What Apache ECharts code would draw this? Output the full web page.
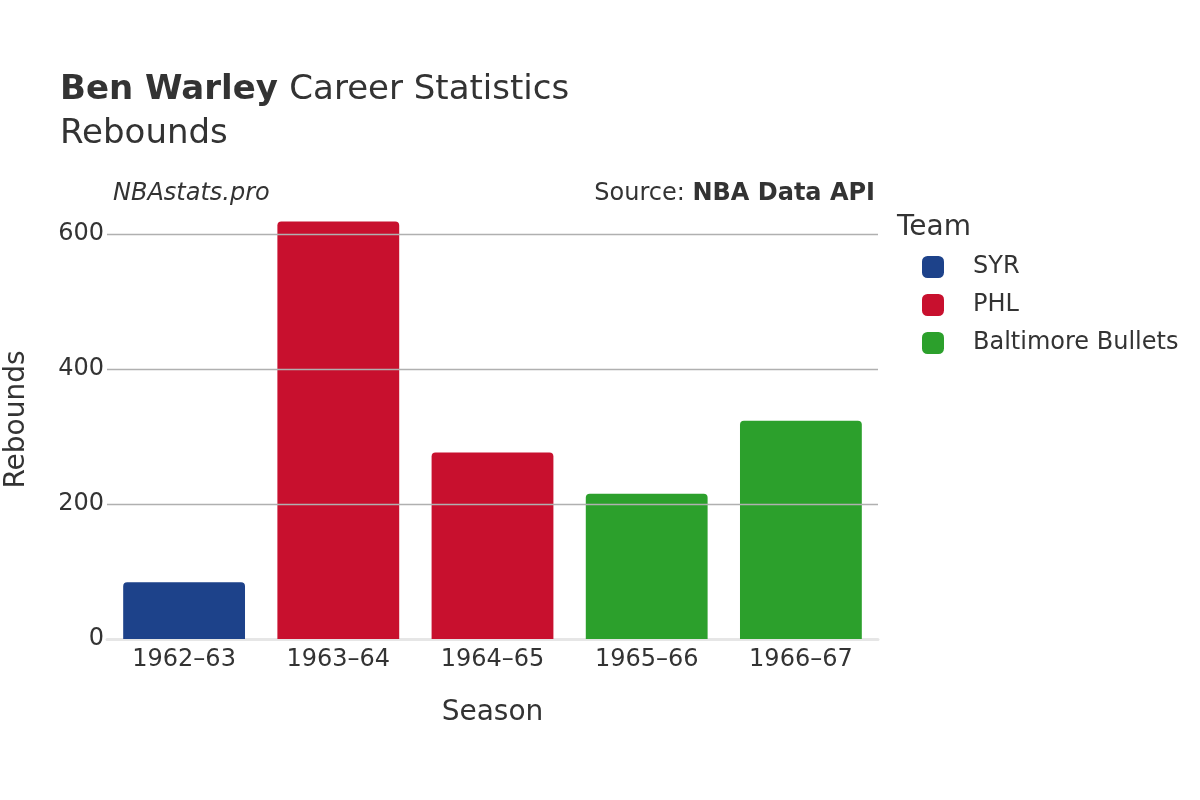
<!DOCTYPE html>
<html lang="en">
<head>
    <meta charset="UTF-8">
    <title>Ben Warley Rebounds</title>
    <script src="https://cdn.jsdelivr.net/npm/echarts@6/dist/echarts.min.js"></script>
    <style>
        html, body { margin: 0; padding: 0; background: #fff; }
        #main { width: 1200px; height: 800px; }
    </style>
</head>
<body>
<div id="main"></div>
<script type="text/javascript">
    // data
    var seasons = ['1962\u201363', '1963\u201364', '1964\u201365', '1965\u201366', '1966\u201367'];
    var teams = ['SYR', 'PHL', 'Baltimore Bullets'];
    var syrVals = [84, null, null, null, null];
    var phlVals = [null, 618, 276, null, null];
    var balVals = [null, null, null, 215, 323];
    var yTicks = [200, 400, 600];
    var teamColors = ['#1d428a', '#c8102e', '#2ca02c'];

    var font = 'DejaVu Sans';
    var myChart = echarts.init(document.getElementById('main'));

    function barSeries(name, vals, color) {
        return {
            name: name,
            type: 'bar',
            stack: 'total',
            barCategoryGap: '21%',
            z: 3,
            itemStyle: {color: color, borderRadius: [4, 4, 0, 0]},
            data: vals
        };
    }

    var option = {
        backgroundColor: '#fff',
        textStyle: {fontFamily: font},
        title: [
            {
                text: '{b|Ben Warley}  {n|Career Statistics}\n{n|Rebounds}',
                left: 55, top: 63,
                textStyle: {
                    fontWeight: 'normal',
                    rich: {
                        b: {fontFamily: font, fontSize: 34, fontWeight: 'bold', color: '#333', lineHeight: 44},
                        n: {fontFamily: font, fontSize: 34, fontWeight: 'normal', color: '#333', lineHeight: 44}
                    }
                }
            },
            {
                text: 'NBAstats.pro',
                left: 108, top: 177,
                textStyle: {fontFamily: font, fontSize: 24, fontStyle: 'italic', fontWeight: 'normal', color: '#333'}
            },
            {
                text: '{n|Source: }{b|NBA Data API}',
                right: 320, top: 177,
                textStyle: {
                    fontWeight: 'normal',
                    rich: {
                        n: {fontFamily: font, fontSize: 24, fontWeight: 'normal', color: '#333'},
                        b: {fontFamily: font, fontSize: 24, fontWeight: 'bold', color: '#333'}
                    }
                }
            },
            {
                text: 'Team',
                left: 892, top: 209,
                textStyle: {fontFamily: font, fontSize: 28, fontWeight: 'normal', color: '#333'}
            }
        ],
        legend: {
            orient: 'vertical',
            left: 917, top: 250,
            icon: 'roundRect',
            itemWidth: 22, itemHeight: 22, itemGap: 14,
            data: teams,
            textStyle: {fontFamily: font, fontSize: 24, color: '#333', padding: [0, 0, 0, 24]}
        },
        grid: {left: 107, right: 322, top: 200, bottom: 161, outerBoundsMode: 'none'},
        xAxis: {
            type: 'category',
            data: seasons,
            name: 'Season',
            nameLocation: 'middle',
            nameGap: 60,
            nameTextStyle: {fontFamily: font, fontSize: 28, color: '#333'},
            axisTick: {show: false},
            axisLine: {lineStyle: {color: '#e6e6e6', width: 3}},
            axisLabel: {fontFamily: font, fontSize: 24, color: '#333', margin: 9}
        },
        yAxis: {
            type: 'value',
            min: 0, max: 650, interval: 200,
            name: 'Rebounds',
            nameLocation: 'middle',
            nameGap: 76,
            nameTextStyle: {fontFamily: font, fontSize: 28, color: '#333'},
            splitLine: {show: false},
            axisLabel: {
                fontFamily: font, fontSize: 24, color: '#333', margin: 3,
                showMaxLabel: false
            }
        },
        series: [
            {
                name: 'grid',
                type: 'line',
                data: [],
                z: 1,
                silent: true,
                markLine: {
                    silent: true,
                    symbol: 'none',
                    label: {show: false},
                    lineStyle: {color: '#b0b0b0', type: 'solid', width: 1.3},
                    data: yTicks.map(function (v) { return {yAxis: v}; })
                }
            },
            barSeries(teams[0], syrVals, teamColors[0]),
            barSeries(teams[1], phlVals, teamColors[1]),
            barSeries(teams[2], balVals, teamColors[2])
        ]
    };
    myChart.setOption(option);
</script>
</body>
</html>
